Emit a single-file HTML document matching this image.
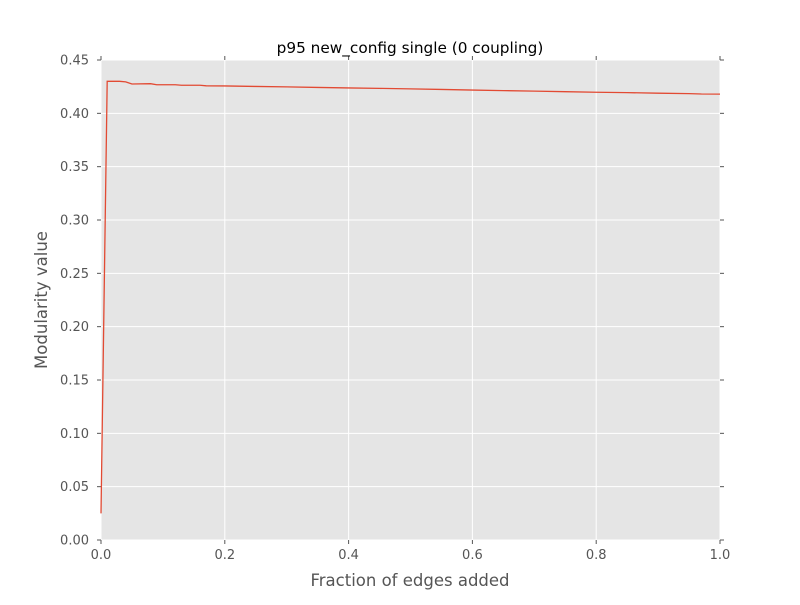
<!DOCTYPE html>
<html><head><meta charset="utf-8"><style>
body{margin:0;background:#fff}
svg text{font-family:"DejaVu Sans","Liberation Sans",sans-serif}
</style></head><body>
<svg id="chart" width="800" height="600">
<rect x="0" y="0" width="800" height="600" fill="#fff"/>
<rect x="101" y="60" width="619" height="480" fill="#e5e5e5"/>
<g id="grid"></g>
<g id="ticks"></g>
<text x="410" y="53" font-size="15.3" text-anchor="middle" fill="#000">p95 new_config single (0 coupling)</text>
<text x="410" y="586" font-size="16.5" text-anchor="middle" fill="#555">Fraction of edges added</text>
<text x="47" y="300" font-size="16.5" text-anchor="middle" fill="#555" transform="rotate(-90 47 300)">Modularity value</text>
<polyline id="line" fill="none" stroke="#e24a33" stroke-width="1.3"/>
</svg>
<script>
const xTicks=[0,0.2,0.4,0.6,0.8,1.0];
const xTickLabels=["0.0","0.2","0.4","0.6","0.8","1.0"];
const yTicks=[0,0.05,0.1,0.15,0.2,0.25,0.3,0.35,0.4,0.45];
const yTickLabels=["0.00","0.05","0.10","0.15","0.20","0.25","0.30","0.35","0.40","0.45"];
const xs=[0,0.01,0.02,0.03,0.04,0.05,0.08,0.09,0.12,0.13,0.16,0.17,0.2,0.25,0.3,0.35,0.4,0.45,0.5,0.55,0.6,0.65,0.7,0.75,0.8,0.85,0.9,0.95,0.97,1.0];
const ys=[0.025,0.430,0.430,0.430,0.4295,0.4275,0.4278,0.4268,0.4268,0.4263,0.4263,0.4258,0.4257,0.4252,0.4248,0.4243,0.4238,0.4234,0.4229,0.4224,0.4218,0.4213,0.4208,0.4203,0.4198,0.4194,0.4189,0.4185,0.4181,0.4180];
const X0=101,X1=720,Y0=540,Y1=60;
const sx=v=>X0+(v-0)/(1-0)*(X1-X0);
const sy=v=>Y0-(v-0)/(0.45-0)*(Y0-Y1);
const NS="http://www.w3.org/2000/svg";
const grid=document.getElementById('grid'),ticks=document.getElementById('ticks');
function mk(tag,attrs,parent){const e=document.createElementNS(NS,tag);for(const k in attrs)e.setAttribute(k,attrs[k]);parent.appendChild(e);return e;}
xTicks.forEach((t,i)=>{const x=sx(t);
 const g=mk('line',{x1:x,x2:x,y1:Y1,y2:Y0,stroke:'#fff','stroke-width':1},grid);
 
 
 mk('line',{x1:x,x2:x,y1:Y0,y2:Y0+4,stroke:'#555'},ticks);
 mk('line',{x1:x,x2:x,y1:Y1,y2:Y1-4,stroke:'#555'},ticks);
 const l=mk('text',{x:x,y:Y0+19,'font-size':13,'text-anchor':'middle',fill:'#555'},ticks);
 l.textContent=xTickLabels[i];
 
 
});
yTicks.forEach((t,i)=>{const y=sy(t);
 const g=mk('line',{x1:X0,x2:X1,y1:y,y2:y,stroke:'#fff','stroke-width':1},grid);
 
 
 mk('line',{x1:X0-4,x2:X0,y1:y,y2:y,stroke:'#555'},ticks);
 mk('line',{x1:X1,x2:X1+4,y1:y,y2:y,stroke:'#555'},ticks);
 const l=mk('text',{x:X0-12,y:y+4.5,'font-size':13,'text-anchor':'end',fill:'#555'},ticks);
 l.textContent=yTickLabels[i];
 
 
});
document.getElementById('line').setAttribute('points',xs.map((x,i)=>sx(x)+','+sy(ys[i])).join(' '));
</script>
</body></html>
